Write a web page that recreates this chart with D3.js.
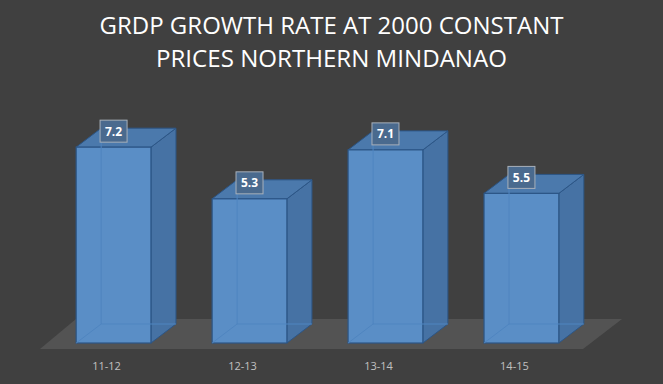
<!DOCTYPE html>
<html>
<head>
<meta charset="utf-8">
<script src="https://cdn.jsdelivr.net/npm/d3@7"></script>
<style>
  body { margin: 0; background: #404040; }
</style>
</head>
<body>
<script>
// chart data
var periods = ["11-12", "12-13", "13-14", "14-15"];
var growth = [7.2, 5.3, 7.1, 5.5];
var titleLines = ["GRDP GROWTH RATE AT 2000 CONSTANT", "PRICES NORTHERN MINDANAO"];

var width = 663,
    height = 384;

var svg = d3.select("body")
    .append("svg")
    .attr("width", width)
    .attr("height", height);

svg.append("rect")
    .attr("width", width)
    .attr("height", height)
    .attr("fill", "#404040");

//title
svg.selectAll(".title")
    .data(titleLines)
    .enter()
    .append("text")
    .attr("class", "title")
    .attr("x", width / 2)
    .attr("y", function(d, i){ return 34 + i * 33; })
    .attr("text-anchor", "middle")
    .attr("fill", "#ffffff")
    .attr("font-family", "'Open Sans', sans-serif")
    .attr("font-size", 23)
    .attr("textLength", function(d, i){ return i == 0 ? 464 : 351; })
    .attr("lengthAdjust", "spacingAndGlyphs")
    .text(function(d){ return d; });

//scales
var x = d3.scaleBand()
    .domain(periods)
    .range([15, 620])
    .padding(0.45);

var base = 343;
var y = d3.scaleLinear()
    .domain([0, 8])
    .range([base, base - 8 * 27.2]);

//3d depth of bars
var dx = 25, dy = 19;

//floor
var floor = [[40, 349], [583, 349], [622, 319], [76, 319]];
svg.append("polygon")
    .attr("points", floor.map(function(p){ return p.join(","); }).join(" "))
    .attr("fill", "#535353");

var bars = svg.selectAll(".bar")
    .data(periods)
    .enter()
    .append("g")
    .attr("class", "bar");

bars.each(function(d, i){
    var g = d3.select(this);
    var x0 = x(d), x1 = x(d) + x.bandwidth();
    var top = y(growth[i]), bot = y(0);

    //side face
    g.append("polygon")
        .attr("points", [[x1, bot], [x1 + dx, bot - dy], [x1 + dx, top - dy], [x1, top]].join(" "))
        .attr("fill", "#4672a4")
        .attr("stroke", "#2c5687")
        .attr("stroke-width", 1);

    //top face
    g.append("polygon")
        .attr("points", [[x0, top], [x1, top], [x1 + dx, top - dy], [x0 + dx, top - dy]].join(" "))
        .attr("fill", "#4b79ac")
        .attr("stroke", "#2c5687")
        .attr("stroke-width", 1);

    //front face
    g.append("rect")
        .attr("x", x0)
        .attr("y", top)
        .attr("width", x1 - x0)
        .attr("height", bot - top)
        .attr("fill", "#5a8ec6")
        .attr("stroke", "#2c5687")
        .attr("stroke-width", 1.2);

    //hidden back edges seen through the bar
    g.append("path")
        .attr("d", "M" + (x0 + dx) + "," + (top - dy) + "V" + (bot - dy) + "H" + (x1 + dx) +
                   "M" + x0 + "," + bot + "L" + (x0 + dx) + "," + (bot - dy))
        .attr("fill", "none")
        .attr("stroke", "#4f85c0")
        .attr("stroke-width", 1);

    //value label box
    var cx = x0 + x.bandwidth() / 2, cy = top - 16;
    g.append("rect")
        .attr("x", cx - 13.5)
        .attr("y", cy - 11)
        .attr("width", 27)
        .attr("height", 22)
        .attr("fill", "#4a6a8e")
        .attr("stroke", "#a8b0ba")
        .attr("stroke-width", 1);

    g.append("text")
        .attr("x", cx)
        .attr("y", cy + 4.5)
        .attr("text-anchor", "middle")
        .attr("fill", "#ffffff")
        .attr("font-family", "'Open Sans', sans-serif")
        .attr("font-weight", "bold")
        .attr("font-size", 12)
        .text(growth[i]);

    //category label
    g.append("text")
        .attr("x", cx - 7)
        .attr("y", 370)
        .attr("text-anchor", "middle")
        .attr("fill", "#c0c0c0")
        .attr("font-family", "'Open Sans', sans-serif")
        .attr("font-size", 11)
        .text(d);
});
</script>
</body>
</html>
